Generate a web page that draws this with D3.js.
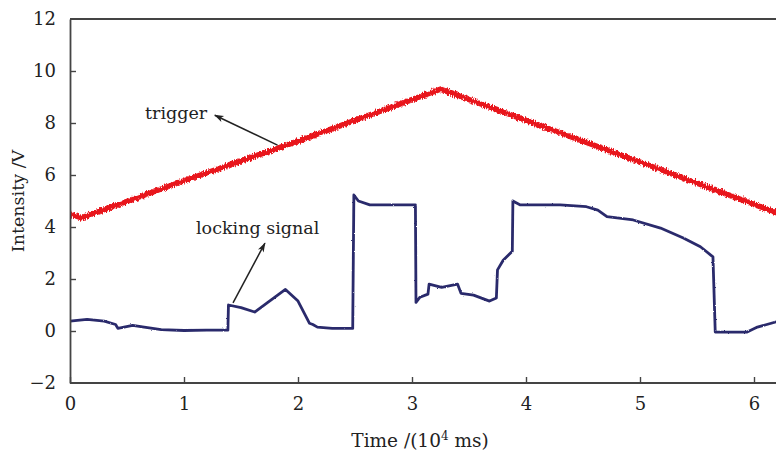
<!DOCTYPE html>
<html lang="en">
<head>
    <meta charset="UTF-8">
    <title>Trigger and locking signal</title>
    <script src="https://cdnjs.cloudflare.com/ajax/libs/d3/7.8.5/d3.min.js"></script>
    <style>
        body { margin: 0; background: #fff; }
        svg { display: block; }
        .tick text { font-family: "DejaVu Serif", serif; font-size: 18px; fill: #222; }
        .lbl { font-family: "DejaVu Serif", serif; font-size: 17.5px; fill: #222; }
    </style>
</head>
<body>
    <svg id="chart" width="776" height="452"></svg>

    <script>
        // trigger ramp (x in 10^4 ms, y in V)
        const triggerX = [0, 0.1, 1, 2, 3, 3.25, 4, 5, 6, 6.25];
        const triggerY = [4.5, 4.35, 5.78, 7.3, 8.9, 9.3, 8.1, 6.5, 4.87, 4.47];

        // locking signal
        const lockX = [0, 0.15, 0.3, 0.4, 0.42, 0.55, 0.65, 0.8, 1.0, 1.2, 1.385, 1.39, 1.5, 1.62, 1.75, 1.89, 2.0, 2.1, 2.13, 2.17, 2.3, 2.48, 2.49,
            2.53, 2.63, 3.03, 3.035, 3.07, 3.14, 3.15, 3.26, 3.4, 3.43, 3.54, 3.68, 3.74, 3.75, 3.8, 3.88, 3.885, 3.95, 4.3, 4.53, 4.63, 4.71,
            4.94, 5.18, 5.38, 5.53, 5.64, 5.66, 5.8, 5.94, 6.03, 6.25];
        const lockY = [0.38, 0.45, 0.38, 0.25, 0.1, 0.22, 0.15, 0.05, 0.02, 0.03, 0.03, 1.0, 0.9, 0.73, 1.15, 1.6, 1.15, 0.3, 0.25, 0.15, 0.1, 0.1, 5.23,
            5.0, 4.85, 4.85, 1.1, 1.3, 1.42, 1.8, 1.68, 1.8, 1.45, 1.38, 1.15, 1.27, 2.35, 2.72, 3.07, 5.0, 4.85, 4.85, 4.78, 4.65, 4.4,
            4.27, 3.96, 3.58, 3.24, 2.85, -0.04, -0.04, -0.04, 0.15, 0.42];

        const xTicks = [0, 1, 2, 3, 4, 5, 6];
        const yTicks = [-2, 0, 2, 4, 6, 8, 10, 12];

        const annotations = [
            { text: "trigger", tx: 145, ty: 119, from: [1.82, 7.15], to: [1.27, 8.3] },
            { text: "locking signal", tx: 196, ty: 234, from: [1.43, 1.08], to: [1.71, 3.38] }
        ];

        const svg = d3.select('#chart');
        const mLeft = 70, mTop = 19, mBottom = 383;

        const x = d3.scaleLinear().domain([0, 6]).range([mLeft, mLeft + 6 * 114]);
        const y = d3.scaleLinear().domain([-2, 12]).range([mBottom, mTop]);

        const defs = svg.append('defs');
        // jagged look of the measured traces
        function noise(id, freq, scale) {
            const f = defs.append('filter').attr('id', id)
                .attr('x', '-5%').attr('y', '-20%').attr('width', '110%').attr('height', '140%');
            f.append('feTurbulence').attr('type', 'fractalNoise')
                .attr('baseFrequency', freq).attr('numOctaves', 2).attr('seed', 3).attr('result', 'n');
            f.append('feDisplacementMap').attr('in', 'SourceGraphic').attr('in2', 'n')
                .attr('scale', scale).attr('xChannelSelector', 'R').attr('yChannelSelector', 'G');
        }
        noise('noisyRed', '0.9 0.3', 5);
        noise('noisyBlue', '0.9 0.4', 1.8);

        defs.append('marker').attr('id', 'arrow')
            .attr('viewBox', '0 0 12 10').attr('refX', 11).attr('refY', 5)
            .attr('markerWidth', 11).attr('markerHeight', 8).attr('markerUnits', 'userSpaceOnUse')
            .attr('orient', 'auto')
            .append('path').attr('d', 'M0,1 L12,5 L0,9 L3,5 Z').attr('fill', '#222');

        defs.append('clipPath').attr('id', 'plot')
            .append('rect').attr('x', mLeft).attr('y', mTop).attr('width', 776 - mLeft).attr('height', mBottom - mTop);

        const line = d3.line().x(d => x(d[0])).y(d => y(d[1]));

        const lines = svg.append('g').attr('clip-path', 'url(#plot)');
        lines.append('path')
            .datum(triggerX.map((v, i) => [v, triggerY[i]]))
            .attr('d', line)
            .attr('fill', 'none').attr('stroke', '#e8141c').attr('stroke-width', 5.5)
            .attr('filter', 'url(#noisyRed)');
        lines.append('path')
            .datum(lockX.map((v, i) => [v, lockY[i]]))
            .attr('d', line)
            .attr('fill', 'none').attr('stroke', '#2b2c6c').attr('stroke-width', 2.8)
            .attr('stroke-linejoin', 'round')
            .attr('filter', 'url(#noisyBlue)');

        // axes
        const xAxis = svg.append('g').attr('transform', `translate(0,${mBottom})`)
            .call(d3.axisBottom(x).tickValues(xTicks).tickFormat(d3.format('d'))
                .tickSizeInner(-6).tickSizeOuter(0).tickPadding(14));
        xAxis.select('.domain').attr('d', `M${mLeft},0H776`);

        const yAxis = svg.append('g').attr('transform', `translate(${mLeft},0)`)
            .call(d3.axisLeft(y).tickValues(yTicks).tickSizeInner(-6).tickSizeOuter(0).tickPadding(14)
                .tickFormat(d => d < 0 ? '\u2212' + Math.abs(d) : d));
        yAxis.selectAll('.tick').filter(d => d === -2 || d === 12).select('line').remove();

        svg.selectAll('.domain').attr('stroke', '#444').attr('stroke-width', 1.8);
        svg.selectAll('.tick line').attr('stroke', '#444').attr('stroke-width', 1.4);

        svg.append('line')
            .attr('x1', mLeft).attr('x2', 776).attr('y1', mTop).attr('y2', mTop)
            .attr('stroke', '#444').attr('stroke-width', 1.8);

        // annotations
        annotations.forEach(a => {
            svg.append('text').attr('class', 'lbl').attr('x', a.tx).attr('y', a.ty).text(a.text);
            svg.append('line')
                .attr('x1', x(a.from[0])).attr('y1', y(a.from[1]))
                .attr('x2', x(a.to[0])).attr('y2', y(a.to[1]))
                .attr('stroke', '#222').attr('stroke-width', 1.5)
                .attr('marker-end', 'url(#arrow)');
        });

        // axis titles
        const xt = svg.append('text').attr('class', 'lbl')
            .attr('x', 420).attr('y', 447).attr('text-anchor', 'middle')
            .style('font-size', '18.5px');
        xt.append('tspan').text('Time /(10');
        xt.append('tspan').attr('font-size', 12).attr('dy', -7).text('4');
        xt.append('tspan').attr('dy', 7).text(' ms)');

        svg.append('text').attr('class', 'lbl')
            .attr('transform', 'translate(24,201) rotate(-90)')
            .attr('text-anchor', 'middle')
            .text('Intensity /V');
    </script>
</body>
</html>
